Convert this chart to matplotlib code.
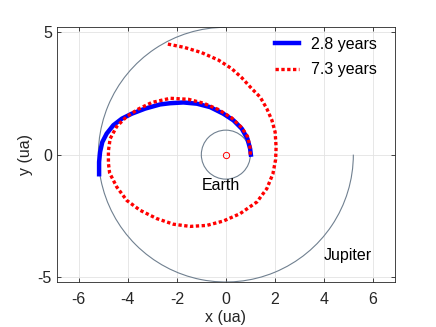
import numpy as np
import matplotlib.pyplot as plt
from matplotlib.patches import Circle, Arc

plt.rcParams['font.family'] = ['Liberation Sans', 'DejaVu Sans']
plt.rcParams['font.size'] = 11.5
plt.rcParams['axes.unicode_minus'] = False

# orbit radii (ua)
earth_r = 1.0
jupiter_r = 5.2
jupiter_arc = (90, 360)  # degrees drawn

# transfer in 2.8 years
x_fast = [1.02, 0.99, 0.88, 0.65, 0.31, -0.10, -0.64, -1.18, -1.73, -2.27,
          -2.68, -3.29, -3.84, -4.24, -4.59, -4.86, -5.04, -5.13, -5.17, -5.17]
y_fast = [0.0, 0.24, 0.65, 1.06, 1.40, 1.67, 1.94, 2.08, 2.13, 2.10,
          2.05, 1.88, 1.67, 1.47, 1.20, 0.86, 0.51, 0.11, -0.30, -0.80]

# transfer in 7.3 years
x_slow = [1.0, 0.98, 0.88, 0.65, 0.24, -0.30, -0.91, -1.53, -2.27, -3.02,
          -3.57, -4.04, -4.45, -4.72, -4.79, -4.79, -4.74, -4.45, -4.04, -3.50,
          -2.82, -2.14, -1.46, -0.78, -0.10, 0.58, 1.27, 1.67, 1.92, 2.03, 2.05,
          2.01, 1.88, 1.67, 1.40, 1.06, 0.65, 0.24, -0.3, -1.0, -1.7, -2.4]
y_slow = [0.0, 0.35, 0.75, 1.10, 1.50, 1.84, 2.10, 2.26, 2.30, 2.13,
          1.86, 1.56, 1.15, 0.65, 0.15, -0.35, -0.75, -1.32, -1.87, -2.27,
          -2.61, -2.84, -2.93, -2.89, -2.71, -2.41, -1.93, -1.39, -0.78, -0.2, 0.31,
          0.92, 1.40, 1.88, 2.35, 2.69, 3.14, 3.51, 3.86, 4.17, 4.38, 4.52]

labels = ['2.8 years', '7.3 years']
orbit_col = '#708090'
axcol = '#262626'

fig = plt.figure(figsize=(4.36, 3.27), dpi=100)
ax = fig.add_axes([0.130, 0.1376, 0.776, 0.779])

ax.add_patch(Circle((0, 0), earth_r, fill=False, ec=orbit_col, lw=0.8))
ax.add_patch(Arc((0, 0), 2 * jupiter_r, 2 * jupiter_r, theta1=jupiter_arc[0],
                 theta2=jupiter_arc[1], ec=orbit_col, lw=0.8))
ax.plot(0, 0, 'o', mfc='none', mec='red', ms=4.5, mew=0.7)

ax.plot(x_fast, y_fast, '-', color='blue', lw=3.2, solid_joinstyle='round',
        label=labels[0])
ax.plot(x_slow, y_slow, color='red', lw=2.4, ls=(0, (1, 0.75)), label=labels[1])

ax.text(-1.0, -1.25, 'Earth', va='center', ha='left')
ax.text(4.0, -4.1, 'Jupiter', va='center', ha='left')

ax.set_xlim(-6.9, 6.9)
ax.set_ylim(-5.2, 5.2)
ax.set_xticks(np.arange(-6, 7, 2))
ax.set_yticks([-5, 0, 5])
ax.grid(True, color='#e3e3e3', lw=0.6)
ax.set_axisbelow(True)
ax.tick_params(direction='in', top=True, right=True, length=3, width=0.6,
               colors=axcol, labelcolor=axcol)
ax.tick_params(axis='x', pad=7)
for s in ax.spines.values():
    s.set_color(axcol)
    s.set_linewidth(0.6)
ax.set_xlabel('x (ua)', color=axcol, labelpad=2)
ax.set_ylabel('y (ua)', color=axcol, labelpad=3)

ax.legend(loc='upper left', bbox_to_anchor=(275 / 436, 1 - 37 / 327),
          bbox_transform=fig.transFigure, frameon=False, borderpad=0,
          borderaxespad=0, handlelength=1.5, handletextpad=0.78,
          labelspacing=0.65)

fig.savefig('out.png', dpi=100)
